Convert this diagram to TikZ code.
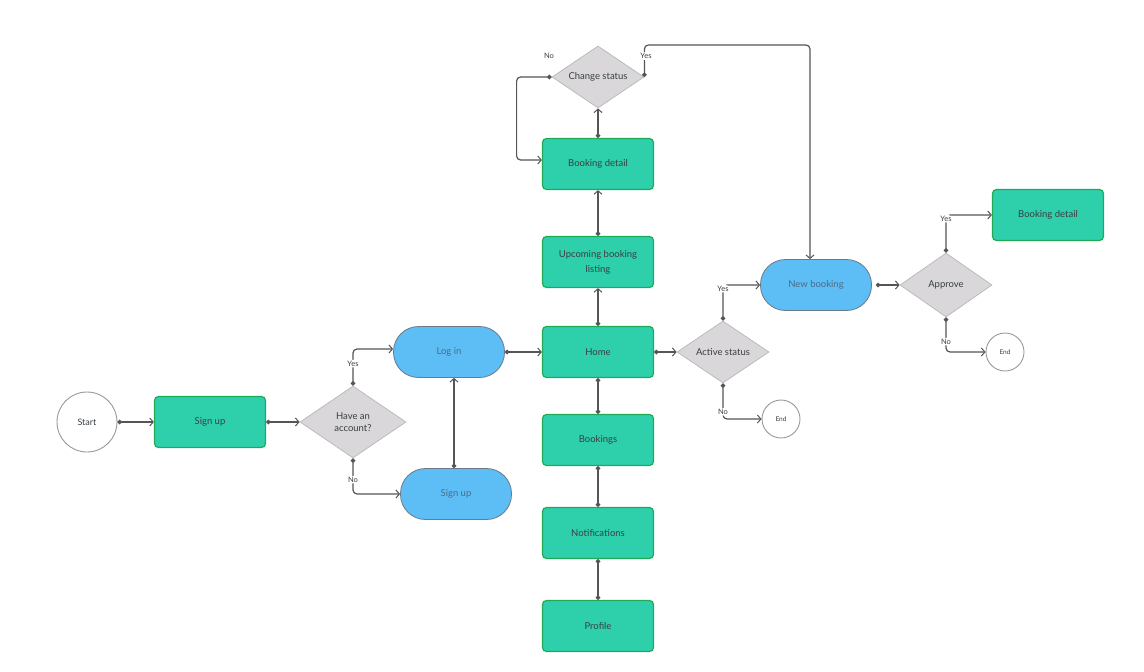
\documentclass[tikz,border=0pt]{standalone}
\usepackage{fontspec}
\setmainfont{Lato}
\usetikzlibrary{shapes.geometric,arrows.meta,calc}
\definecolor{gfill}{HTML}{2ECFAB}
\definecolor{gline}{HTML}{1FAA55}
\definecolor{bfill}{HTML}{5DBDF5}
\definecolor{bline}{HTML}{6A7A88}
\definecolor{dfill}{HTML}{D9D7D9}
\definecolor{dline}{HTML}{BBBBBB}
\definecolor{conn}{HTML}{555555}
\definecolor{txt}{HTML}{3A3F44}
\definecolor{btxt}{HTML}{4A6C88}
\begin{document}
\begin{tikzpicture}[x=1pt,y=-1pt,
  greenbox/.style={rectangle,rounded corners=4pt,fill=gfill,draw=gline,line width=1.2pt,minimum width=111pt,minimum height=51pt,inner sep=2pt,text=txt,font=\fontsize{9.5}{12}\selectfont,align=center},
  bluebox/.style={rectangle,rounded corners=25pt,fill=bfill,draw=bline,line width=0.8pt,minimum width=111pt,minimum height=51pt,text=btxt,font=\fontsize{9.5}{12}\selectfont},
  decision/.style={diamond,aspect=1.5,fill=dfill,draw=dline,line width=0.8pt,inner sep=0pt,text=txt,font=\fontsize{9.5}{12}\selectfont,align=center},
  terminal/.style={circle,fill=white,draw=gray!80,line width=0.9pt,text=txt},
  conn/.style={draw=conn,line width=1.2pt,rounded corners=4pt,{Circle[length=4.5pt]}-{Straight Barb[length=3.5pt,width=8pt,line width=1pt]}},
  dotline/.style={draw=conn,line width=1.2pt,{Circle[length=4.5pt]}-{Circle[length=4.5pt]}},
  lab/.style={fill=white,inner sep=1pt,text=txt,font=\fontsize{7.5}{8}\selectfont}]
\useasboundingbox (0,0) rectangle (1144,672);
% nodes
\node[terminal,minimum size=60pt,font=\fontsize{9}{11}\selectfont] (start) at (87,422) {Start};
\node[greenbox] (signup) at (210,422) {Sign up};
\node[decision,minimum width=106pt,minimum height=72pt] (acc) at (353,422) {Have an\\account?};
\node[bluebox] (login) at (449,352) {Log in};
\node[bluebox] (signup2) at (456,494) {Sign up};
\node[greenbox] (home) at (598,352) {Home};
\node[greenbox,font=\fontsize{9.5}{15}\selectfont] (upc) at (598,262) {Upcoming booking\\listing};
\node[greenbox] (bd) at (598,164) {Booking detail};
\node[decision,minimum width=92pt,minimum height=62pt] (cs) at (598,77) {Change status};
\node[greenbox] (bookings) at (598,440) {Bookings};
\node[greenbox] (notif) at (598,533) {Notifications};
\node[greenbox] (profile) at (598,626) {Profile};
\node[decision,minimum width=92pt,minimum height=62pt] (act) at (723,352) {Active status};
\node[terminal,minimum size=38pt,font=\fontsize{6.5}{8}\selectfont] (end1) at (781,419) {End};
\node[bluebox] (nb) at (816,285) {New booking};
\node[decision,minimum width=92pt,minimum height=64pt] (appr) at (946,285) {Approve};
\node[greenbox] (bd2) at (1048,215) {Booking detail};
\node[terminal,minimum size=38pt,font=\fontsize{6.5}{8}\selectfont] (end2) at (1005,352) {End};
% connectors
\draw[conn] (start.east) -- (signup.west);
\draw[conn] (signup.east) -- (acc.west);
\draw[conn] (acc.north) |- ([yshift=3pt]login.west) node[lab,pos=0.3] {Yes};
\draw[conn] (acc.south) |- (signup2.west) node[lab,pos=0.3] {No};
\draw[conn] ([xshift=-2pt]signup2.north) -- ([xshift=-2pt]signup2.north |- login.south);
\draw[conn] (login.east) -- (home.west);
\draw[conn] (home.north) -- (upc.south);
\draw[conn] (upc.north) -- (bd.south);
\draw[conn] (bd.north) -- (cs.south);
\draw[conn] (cs.west) -- ++(-35,0) |- ([yshift=4pt]bd.west);
\node[lab] (csno) at (549,56) {No};
\draw[conn] (cs.east) -- ++(0,-32) -| ([xshift=-6pt]nb.north);
\node[lab] (csyes) at (646,56) {Yes};
\draw[conn] (home.east) -- (act.west);
\draw[conn] (act.north) |- (nb.west) node[lab,pos=0.45] {Yes};
\draw[conn] (act.south) |- (end1.west) node[lab,pos=0.4] {No};
\draw[dotline] (home.south) -- (bookings.north);
\draw[dotline] (bookings.south) -- (notif.north);
\draw[dotline] (notif.south) -- (profile.north);
\draw[conn] ([xshift=4pt]nb.east) -- (appr.west);
\draw[conn] (appr.north) |- (bd2.west) node[lab,pos=0.45] {Yes};
\draw[conn] (appr.south) |- (end2.west) node[lab,pos=0.35] {No};
\end{tikzpicture}
\end{document}
